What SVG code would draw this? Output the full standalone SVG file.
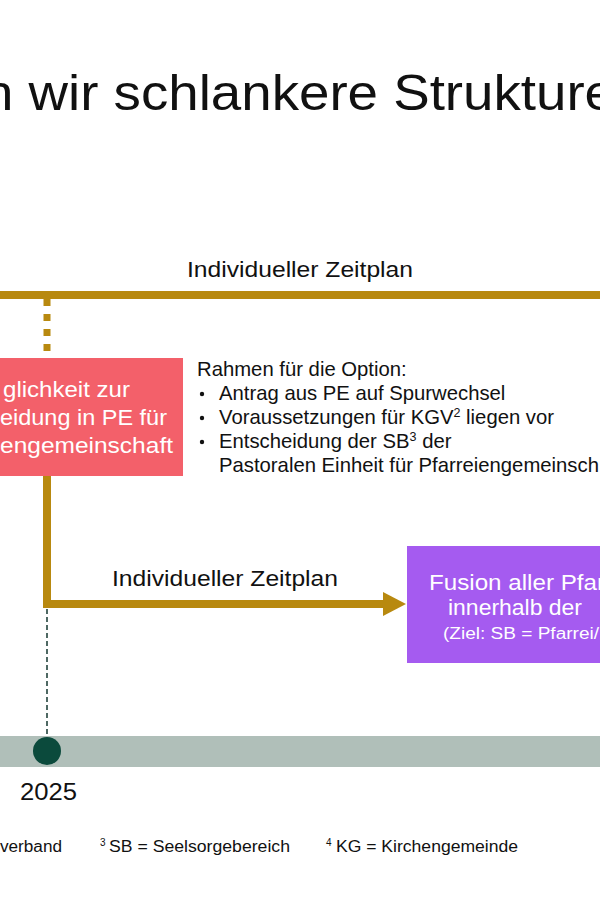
<svg xmlns="http://www.w3.org/2000/svg" width="600" height="900" viewBox="0 0 600 900">
<style>
.t{font-family:"Liberation Sans",Arial,sans-serif;fill:#111}
.w{font-family:"Liberation Sans",Arial,sans-serif;fill:#fff}
.gold{stroke:#B8890F;fill:none}
.sup{font-size:12.5px}
</style>
<rect x="0" y="0" width="600" height="900" fill="#fff"/>
<g id="title">
<text class="t" x="-17" y="110" font-size="50" textLength="632" lengthAdjust="spacingAndGlyphs">n wir schlankere Strukture</text>
</g>
<g id="connectors">
<line class="gold" x1="0" y1="295" x2="600" y2="295" stroke-width="8"/>
<line class="gold" x1="47" y1="299" x2="47" y2="356" stroke-width="7" stroke-dasharray="7 8"/>
<polyline class="gold" points="47,476 47,604 386,604" stroke-width="8"/>
<polygon points="383,592 406,604 383,616" fill="#B8890F"/>
<line x1="47" y1="609" x2="47" y2="738" stroke="#24443D" stroke-width="1.6" stroke-dasharray="5 3"/>
</g>
<g id="label-top">
<text class="t" x="187" y="277" font-size="22" textLength="226" lengthAdjust="spacingAndGlyphs">Individueller Zeitplan</text>
</g>
<g id="label-bottom">
<text class="t" x="112" y="586" font-size="22" textLength="226" lengthAdjust="spacingAndGlyphs">Individueller Zeitplan</text>
</g>
<g id="node-option">
<rect x="-10" y="358" width="193" height="118" fill="#F3606A"/>
<text class="w" x="130" y="397" font-size="21.5" text-anchor="end" textLength="127" lengthAdjust="spacingAndGlyphs">glichkeit zur</text>
<text class="w" x="167" y="425" font-size="21.5" text-anchor="end" textLength="167" lengthAdjust="spacingAndGlyphs">eidung in PE für</text>
<text class="w" x="173" y="453" font-size="21.5" text-anchor="end" textLength="173" lengthAdjust="spacingAndGlyphs">engemeinschaft</text>
</g>
<g id="framework" font-size="20.3">
<text class="t" x="197" y="376">Rahmen für die Option:</text>
<circle cx="202" cy="394" r="2.2" fill="#111"/>
<circle cx="202" cy="418" r="2.2" fill="#111"/>
<circle cx="202" cy="442" r="2.2" fill="#111"/>
<text class="t" x="219" y="400">Antrag aus PE auf Spurwechsel</text>
<text class="t" x="219" y="424">Voraussetzungen für KGV<tspan class="sup" dy="-7">2</tspan><tspan dy="7"> liegen vor</tspan></text>
<text class="t" x="219" y="448">Entscheidung der SB<tspan class="sup" dy="-7">3</tspan><tspan dy="7"> der</tspan></text>
<text class="t" x="219" y="472">Pastoralen Einheit für Pfarreiengemeinsch</text>
</g>
<g id="node-fusion">
<rect x="407" y="546" width="200" height="117" fill="#A55BF0"/>
<text class="w" x="429" y="590" font-size="22" textLength="176" lengthAdjust="spacingAndGlyphs">Fusion aller Pfar</text>
<text class="w" x="448" y="615" font-size="22" textLength="134" lengthAdjust="spacingAndGlyphs">innerhalb der</text>
<text class="w" x="443" y="639" font-size="16" textLength="156" lengthAdjust="spacingAndGlyphs">(Ziel: SB = Pfarrei/</text>
</g>
<g id="timeline">
<rect x="0" y="736" width="600" height="31" fill="#B0BFB9"/>
<circle cx="47" cy="751" r="14" fill="#0B4A3C"/>
<text class="t" x="20" y="800" font-size="23" textLength="57" lengthAdjust="spacingAndGlyphs">2025</text>
</g>
<g id="footnotes">
<text class="t" x="62" y="852" font-size="16" text-anchor="end" textLength="62" lengthAdjust="spacingAndGlyphs">verband</text>
<text class="t" x="100" y="846" font-size="10">3</text>
<text class="t" x="109" y="852" font-size="16" textLength="181" lengthAdjust="spacingAndGlyphs">SB = Seelsorgebereich</text>
<text class="t" x="326" y="846" font-size="10">4</text>
<text class="t" x="336" y="852" font-size="16" textLength="182" lengthAdjust="spacingAndGlyphs">KG = Kirchengemeinde</text>
</g>
</svg>
